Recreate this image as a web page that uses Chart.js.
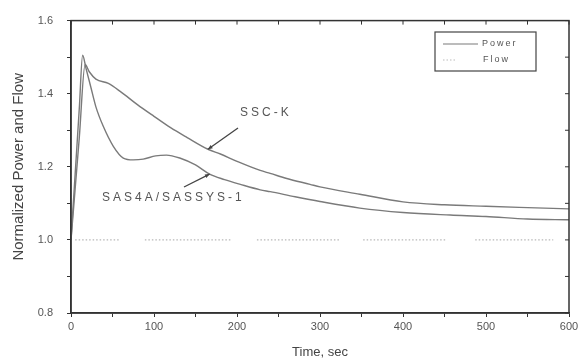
<!DOCTYPE html>
<html>
<head>
<meta charset="utf-8">
<script src="https://cdn.jsdelivr.net/npm/chart.js@4"></script>
<style>
  html, body { margin: 0; padding: 0; background: #fff; }
  #wrap { width: 584px; height: 360px; }
</style>
</head>
<body>
<div id="wrap"><canvas id="chart" width="584" height="360"></canvas></div>
<script>
// Power traces (time in sec, normalized value)
var sscTime = [0, 5, 10, 17, 22, 30, 45, 60, 80, 100, 120, 140, 165, 180, 200, 228, 240, 260, 288, 300, 348, 400, 450, 500, 540, 600];
var sscPower = [1.0, 1.14, 1.28, 1.48, 1.46, 1.44, 1.428, 1.405, 1.37, 1.338, 1.307, 1.28, 1.248, 1.235, 1.215, 1.19, 1.182, 1.168, 1.152, 1.145, 1.125, 1.104, 1.096, 1.092, 1.089, 1.085];

var sasTime = [0, 5, 10, 14, 18, 24, 30, 39, 51, 63, 75, 87, 102, 115, 131, 150, 167, 185, 204, 228, 240, 270, 300, 348, 400, 457, 500, 550, 600];
var sasPower = [1.0, 1.18, 1.36, 1.505, 1.47, 1.417, 1.364, 1.31, 1.256, 1.224, 1.219, 1.221, 1.23, 1.232, 1.224, 1.205, 1.18, 1.165, 1.152, 1.137, 1.132, 1.118, 1.105, 1.087, 1.075, 1.068, 1.064, 1.057, 1.055];

// Flow is a broken dotted line at 1.0 (null = gap)
var flowTime = [5, 59, 74, 89, 194, 209, 224, 324, 338, 352, 451, 469, 487, 581];
var flowValues = [1.0, 1.0, null, 1.0, 1.0, null, 1.0, 1.0, null, 1.0, 1.0, null, 1.0, 1.0];

var xTicks = [0, 100, 200, 300, 400, 500, 600];
var yTicks = [0.8, 1.0, 1.2, 1.4, 1.6];

function pts(xs, ys) {
    return xs.map(function (x, i) { return { x: x, y: ys[i] }; });
}

var lineColor = '#7a7a7a';
var fontFam = '"Liberation Sans", Arial, sans-serif';

// frame, inward ticks on top/right, legend box and annotations
var decor = {
    id: 'decor',
    afterDraw: function (chart) {
        var c = chart.ctx, a = chart.chartArea;
        var xs = chart.scales.x, ys = chart.scales.y;
        c.save();
        c.strokeStyle = '#333';
        c.lineWidth = 1.5;
        c.strokeRect(a.left, a.top, a.right - a.left, a.bottom - a.top);
        c.lineWidth = 1;
        for (var t = 0; t <= 600; t += 50) {
            var px = xs.getPixelForValue(t);
            c.beginPath(); c.moveTo(px, a.top); c.lineTo(px, a.top + 4); c.stroke();
        }
        for (var v = 0.8; v <= 1.601; v += 0.1) {
            var py = ys.getPixelForValue(v);
            c.beginPath(); c.moveTo(a.right, py); c.lineTo(a.right - 4, py); c.stroke();
        }

        // legend
        c.strokeStyle = '#444';
        c.lineWidth = 1.2;
        c.strokeRect(435, 32, 101, 39);
        c.strokeStyle = lineColor;
        c.lineWidth = 1.2;
        c.beginPath(); c.moveTo(443, 44); c.lineTo(478, 44); c.stroke();
        c.strokeStyle = '#bbb';
        c.setLineDash([1.5, 2]);
        c.beginPath(); c.moveTo(443, 60); c.lineTo(457, 60); c.stroke();
        c.setLineDash([]);
        c.fillStyle = '#555';
        c.font = '9px ' + fontFam;
        c.letterSpacing = '2px';
        c.textBaseline = 'middle';
        c.fillText('Power', 482, 44);
        c.fillText('Flow', 483, 60);

        // annotations with arrows pointing at the curves
        c.font = '12px ' + fontFam;
        c.letterSpacing = '3px';
        c.fillStyle = '#555';
        c.fillText('SSC-K', 240, 113);
        c.fillText('SAS4A/SASSYS-1', 102, 198);
        c.letterSpacing = '0px';

        function arrow(x0, y0, x1, y1) {
            c.strokeStyle = '#444';
            c.lineWidth = 1.3;
            c.beginPath(); c.moveTo(x0, y0); c.lineTo(x1, y1); c.stroke();
            var ang = Math.atan2(y1 - y0, x1 - x0);
            c.fillStyle = '#444';
            c.beginPath();
            c.moveTo(x1, y1);
            c.lineTo(x1 - 5 * Math.cos(ang - 0.4), y1 - 5 * Math.sin(ang - 0.4));
            c.lineTo(x1 - 5 * Math.cos(ang + 0.4), y1 - 5 * Math.sin(ang + 0.4));
            c.closePath(); c.fill();
        }
        arrow(238, 128, xs.getPixelForValue(165), ys.getPixelForValue(1.248));
        arrow(184, 187, xs.getPixelForValue(167), ys.getPixelForValue(1.18));
        c.restore();
    }
};

var ctx = document.getElementById('chart').getContext('2d');
var chart = new Chart(ctx, {
    type: 'line',
    data: {
        datasets: [{
            label: 'SSC-K',
            data: pts(sscTime, sscPower),
            borderColor: lineColor,
            borderWidth: 1.4,
            pointRadius: 0,
            cubicInterpolationMode: 'monotone'
        }, {
            label: 'SAS4A/SASSYS-1',
            data: pts(sasTime, sasPower),
            borderColor: lineColor,
            borderWidth: 1.4,
            pointRadius: 0,
            cubicInterpolationMode: 'monotone'
        }, {
            label: 'Flow',
            data: pts(flowTime, flowValues),
            borderColor: '#b8b8b8',
            borderWidth: 1.2,
            borderDash: [1.5, 2],
            pointRadius: 0,
            spanGaps: false
        }]
    },
    options: {
        responsive: false,
        animation: false,
        layout: { padding: { left: 0, right: 15, top: 15, bottom: 0 } },
        plugins: {
            legend: { display: false },
            tooltip: { enabled: false }
        },
        scales: {
            x: {
                type: 'linear',
                min: 0,
                max: 600,
                afterFit: function (s) { s.height = 47; },
                afterBuildTicks: function (s) {
                    var t = [];
                    for (var v = 0; v <= 600; v += 50) t.push({ value: v });
                    s.ticks = t;
                },
                ticks: {
                    autoSkip: false,
                    maxRotation: 0,
                    color: '#555',
                    font: { size: 11, family: fontFam },
                    padding: 3,
                    callback: function (v) { return xTicks.indexOf(v) >= 0 ? String(v) : ''; }
                },
                grid: { drawOnChartArea: false, drawTicks: true, tickLength: 4, color: '#333' },
                border: { color: '#333', width: 1.5 },
                title: {
                    display: true,
                    text: 'Time, sec',
                    color: '#444',
                    font: { size: 13, family: fontFam },
                    padding: { top: 2, bottom: 0 }
                }
            },
            y: {
                min: 0.8,
                max: 1.6,
                afterFit: function (s) { s.width = 71; },
                afterBuildTicks: function (s) {
                    var t = [];
                    for (var i = 0; i <= 8; i++) t.push({ value: Math.round((0.8 + i * 0.1) * 10) / 10 });
                    s.ticks = t;
                },
                ticks: {
                    autoSkip: false,
                    color: '#555',
                    font: { size: 11, family: fontFam },
                    padding: 14,
                    callback: function (v) {
                        var r = Math.round(v * 10) / 10;
                        return yTicks.indexOf(r) >= 0 ? r.toFixed(1) : '';
                    }
                },
                grid: { drawOnChartArea: false, drawTicks: true, tickLength: 4, color: '#333' },
                border: { color: '#333', width: 1.5 },
                title: {
                    display: true,
                    text: 'Normalized Power and Flow',
                    color: '#444',
                    font: { size: 15, family: fontFam },
                    padding: { top: 10, bottom: 0 }
                }
            }
        }
    },
    plugins: [decor]
});
</script>
</body>
</html>
